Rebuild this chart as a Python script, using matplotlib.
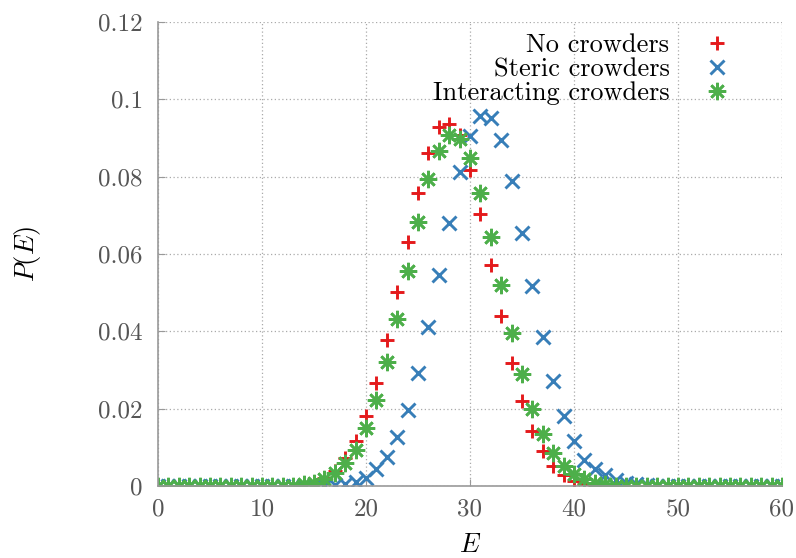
import matplotlib
matplotlib.use("Agg")
import matplotlib.pyplot as plt
import numpy as np

plt.rcParams['font.family'] = 'cmr10'
plt.rcParams['mathtext.fontset'] = 'cm'
plt.rcParams['axes.unicode_minus'] = False

# energie E = 0..60
E = np.arange(0, 61)

def pad(start, vals):
    # valores, zero fora da faixa
    p = np.zeros(len(E))
    p[start:start + len(vals)] = vals
    return p

# sem crowders (E = 14..41)
no_crowd = pad(14, [0.0004, 0.0009, 0.002, 0.004, 0.0072, 0.0117, 0.0181, 0.0266,
                    0.0378, 0.0501, 0.0632, 0.0759, 0.086, 0.0928, 0.0936, 0.0908,
                    0.0817, 0.0704, 0.0572, 0.044, 0.0319, 0.022, 0.0143, 0.009,
                    0.0052, 0.0028, 0.0014, 0.0006])
# crowders estericos (E = 16..47)
steric = pad(16, [0.0001, 0.0002, 0.0005, 0.0011, 0.0022, 0.0044, 0.0076, 0.0126,
                  0.0197, 0.0293, 0.0412, 0.0546, 0.0681, 0.0812, 0.0905, 0.0957,
                  0.0951, 0.0895, 0.0788, 0.0655, 0.0518, 0.0385, 0.0272, 0.0182,
                  0.0116, 0.0067, 0.0044, 0.0028, 0.0015, 0.0008, 0.0004, 0.0002])
# crowders interagindo (E = 14..43)
interact = pad(14, [0.0004, 0.0009, 0.0018, 0.0034, 0.0059, 0.0093, 0.0149, 0.0222,
                    0.0322, 0.0431, 0.0556, 0.0682, 0.0793, 0.0867, 0.0908, 0.0897,
                    0.0849, 0.0759, 0.0643, 0.0521, 0.0397, 0.0289, 0.020, 0.0134,
                    0.0085, 0.0053, 0.003, 0.0017, 0.0009, 0.0005])

labels = ['No crowders', 'Steric crowders', 'Interacting crowders']
yticks = [0, 0.02, 0.04, 0.06, 0.08, 0.1, 0.12]
ytick_labels = ['0', '0.02', '0.04', '0.06', '0.08', '0.1', '0.12']

fig = plt.figure(figsize=(7.96, 5.58), dpi=100)
ax = fig.add_axes([0.1985, 0.129, 0.7839, 0.8316])

ax.plot(E, no_crowd, ls='none', marker='+', ms=10, mew=2.1, color='#e41a1c', label=labels[0])
ax.plot(E, steric, ls='none', marker='x', ms=9.5, mew=2.1, color='#377eb8', label=labels[1])
ax.plot(E, interact, ls='none', marker=(8, 2, 0), ms=12.5, mew=1.9, color='#4daf4a', label=labels[2])

ax.set_xlim(0, 60)
ax.set_ylim(0, 0.12)
ax.set_xticks([0, 10, 20, 30, 40, 50, 60])
ax.set_yticks(yticks)
ax.set_yticklabels(ytick_labels)
ax.tick_params(labelsize=18, labelcolor='#555555', color='#999999', direction='in', length=5)
ax.tick_params(axis='x', pad=9)
ax.tick_params(axis='y', pad=11)

ax.grid(True, ls=(0, (1, 2)), color='#aaaaaa', lw=0.9)
for s in ['top', 'right']:
    ax.spines[s].set_visible(False)
for s in ['left', 'bottom']:
    ax.spines[s].set_color('#999999')
    ax.spines[s].set_linewidth(1.2)

ax.set_xlabel('$E$', fontsize=19, labelpad=9)
ax.set_ylabel('$P(E)$', fontsize=19, labelpad=40)

leg = ax.legend(loc='upper right', bbox_to_anchor=(0.957, 1.012), frameon=False, markerfirst=False,
                fontsize=19, handletextpad=1.0, handlelength=1.6, labelspacing=0.0, borderaxespad=0.25)
# texto da legenda alinhado a direita (estilo gnuplot)
for col in leg._legend_handle_box.get_children():
    col.align = 'right'

fig.savefig('out.png', dpi=100)
